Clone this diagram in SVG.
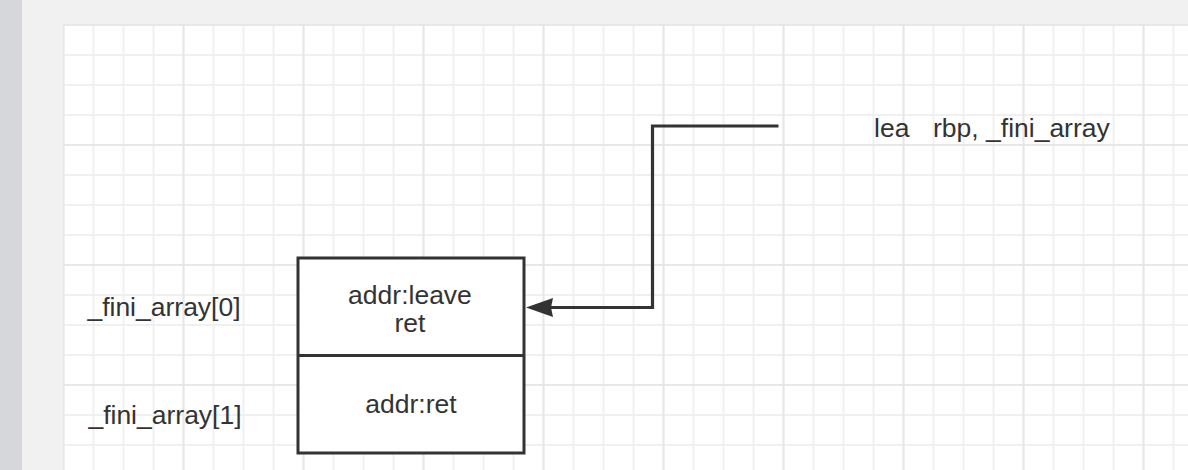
<svg xmlns="http://www.w3.org/2000/svg" width="1188" height="470" viewBox="0 0 1188 470">
  <style>
    .lbl { font-family: "Liberation Sans", Arial, Helvetica, sans-serif; font-size: 26.5px; fill: #333333; }
    .mid { text-anchor: middle; }
    .box { fill: #ffffff; stroke: #333333; stroke-width: 3; }
    .edge { fill: none; stroke: #333333; stroke-width: 3.2; }
  </style>
  <defs>
    <pattern id="minor" patternUnits="userSpaceOnUse" x="62.5" y="24" width="30" height="30">
      <rect x="0" y="0" width="2" height="30" fill="#f0f0f0"/>
      <rect x="0" y="0" width="30" height="2" fill="#f0f0f0"/>
    </pattern>
    <pattern id="major" patternUnits="userSpaceOnUse" x="62.5" y="24" width="120" height="120">
      <rect x="0" y="0" width="2" height="120" fill="#e7e7e7"/>
      <rect x="0" y="0" width="120" height="2" fill="#e7e7e7"/>
    </pattern>
  </defs>

  <g id="background">
    <rect x="0" y="0" width="1188" height="470" fill="#f1f1f1"/>
    <rect x="0" y="0" width="22" height="470" fill="#d5d7db"/>
    <rect x="63" y="25" width="1125" height="445" fill="#ffffff"/>
    <rect x="63" y="24" width="1125" height="446" fill="url(#minor)"/>
    <rect x="63" y="24" width="1125" height="446" fill="url(#major)"/>
  </g>

  <g id="connectors">
    <path class="edge" d="M778.5 126 H652.5 V307.5 H549"/>
    <path d="M526 307.5 L553 298 L551 307.5 L553 317 Z" fill="#333333"/>
  </g>

  <g id="node-array">
    <rect class="box" x="298" y="258" width="226" height="195"/>
    <line x1="298" y1="355.5" x2="524" y2="355.5" stroke="#333333" stroke-width="3"/>
    <text class="lbl mid" x="410" y="304">addr:leave</text>
    <text class="lbl mid" x="410" y="332">ret</text>
    <text class="lbl mid" x="411" y="413">addr:ret</text>
  </g>

  <g id="label-lea">
    <text class="lbl" x="874" y="137">lea<tspan x="933">rbp, _fini_array</tspan></text>
  </g>

  <g id="label-fini0">
    <text class="lbl mid" x="164" y="316">_fini_array[0]</text>
  </g>

  <g id="label-fini1">
    <text class="lbl mid" x="165" y="424">_fini_array[1]</text>
  </g>
</svg>
